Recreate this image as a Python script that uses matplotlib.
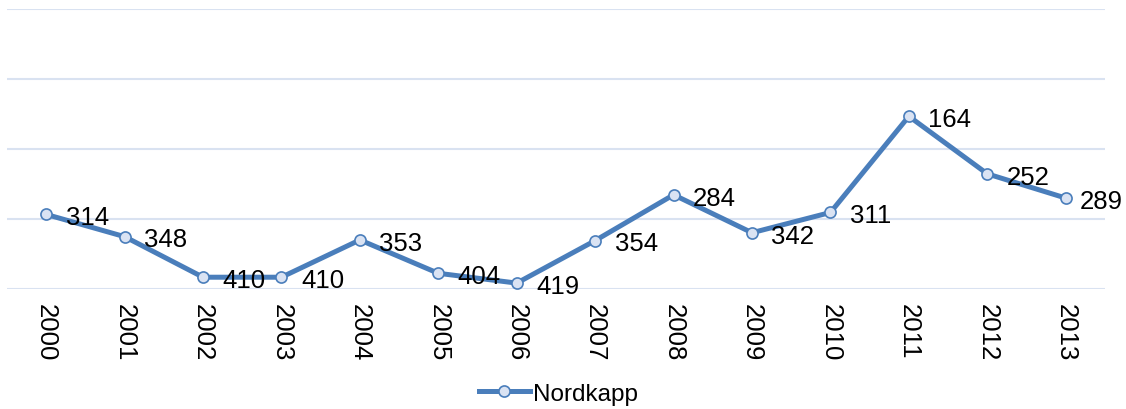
import numpy as np
import matplotlib.pyplot as plt
from matplotlib.lines import Line2D

# -------------------------------
# Data (rank per year, Nordkapp)
# -------------------------------
years = ['2000', '2001', '2002', '2003', '2004', '2005', '2006',
         '2007', '2008', '2009', '2010', '2011', '2012', '2013']
nordkapp = [314, 348, 410, 410, 353, 404, 419, 354, 284, 342, 311, 164, 252, 289]

LINE_COL = '#4A7EBB'
FILL_COL = '#DAE3F3'
GRID_COL = '#D9E2F1'

plt.rcParams['font.family'] = ['Liberation Sans', 'DejaVu Sans']

fig = plt.figure(figsize=(11.26, 4.10), dpi=100)
ax = fig.add_axes([0.0062, 0.2927, 0.9751, 0.6829])

x = np.arange(len(years))
ax.plot(x, nordkapp, '-o', color=LINE_COL, linewidth=3.6,
        markersize=8, markerfacecolor=FILL_COL, markeredgecolor=LINE_COL,
        markeredgewidth=1.2, zorder=3)

# labels to the right of the points; the last one is pulled in to fit the figure
for i, (xi, v) in enumerate(zip(x, nordkapp)):
    dx = 10 if i == len(x) - 1 else 14
    ax.annotate(str(v), (xi, v), xytext=(dx, -2), textcoords='offset points',
                ha='left', va='center', fontsize=18.5, color='black', zorder=4)

# reversed value axis, no labels, light gridlines
ax.set_ylim(428, 0)
ax.set_yticks(np.linspace(0, 428, 5))
ax.set_yticklabels([])
ax.tick_params(axis='y', length=0)
ax.grid(axis='y', color=GRID_COL, linewidth=1.5)
ax.set_axisbelow(True)

ax.set_xlim(-0.5, len(years) - 0.5)
ax.set_xticks(x)
ax.set_xticklabels(years, rotation=-90, fontsize=18.5)
ax.tick_params(axis='x', length=0, pad=10)

for s in ax.spines.values():
    s.set_visible(False)

handle = Line2D([], [], color=LINE_COL, linewidth=3.6, marker='o', markersize=8,
                markerfacecolor=FILL_COL, markeredgecolor=LINE_COL, markeredgewidth=1.2)
fig.legend([handle], ['Nordkapp'], loc='center', bbox_to_anchor=(0.496, 0.037),
           frameon=False, fontsize=17.5, handlelength=2.1, handletextpad=0.15)

plt.savefig('out.png', dpi=100)
